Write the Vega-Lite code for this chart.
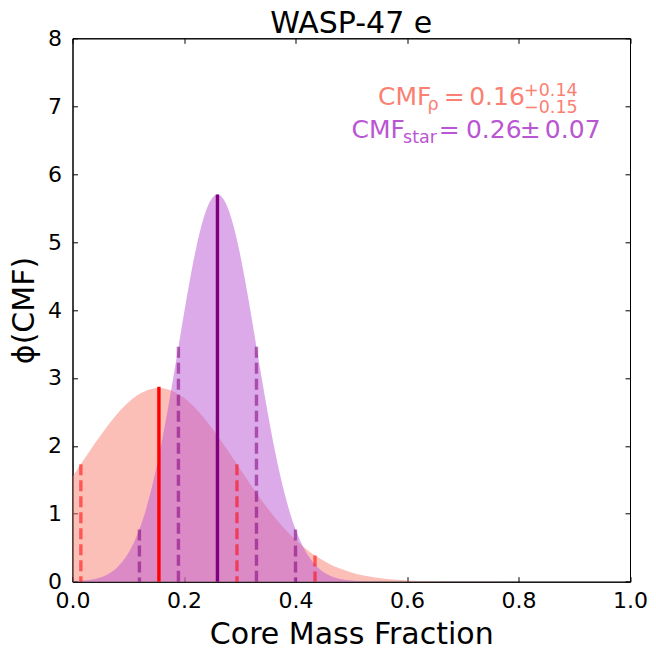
{
  "$schema": "https://vega.github.io/schema/vega-lite/v6.json",
  "width": 557.5,
  "height": 543.4,
  "autosize": {"type": "none"},
  "padding": {"left": 72.5, "top": 38.3, "right": 26, "bottom": 76.3},
  "background": "white",
  "title": {"text": "WASP-47 e", "font": "DejaVu Sans", "fontSize": 30, "fontWeight": "normal", "color": "black", "offset": 1, "baseline": "bottom", "dy": 43},
  "config": {
    "view": {"stroke": "black", "strokeWidth": 1},
    "axis": {"labelFont": "DejaVu Sans", "titleFont": "DejaVu Sans", "labelColor": "black", "titleColor": "black", "labelFontSize": 22, "titleFontSize": 30, "titleFontWeight": "normal", "grid": false, "domainColor": "black", "tickColor": "black", "tickSize": -5, "tickWidth": 1}
  },
  "datasets": {
    "red": [
      {"x": 0.0, "y": 1.544}, {"x": 0.02, "y": 1.791}, {"x": 0.04, "y": 2.034}, {"x": 0.06, "y": 2.264},
      {"x": 0.08, "y": 2.469}, {"x": 0.10, "y": 2.638}, {"x": 0.12, "y": 2.762}, {"x": 0.14, "y": 2.834},
      {"x": 0.155, "y": 2.85}, {"x": 0.17, "y": 2.834}, {"x": 0.18, "y": 2.805}, {"x": 0.20, "y": 2.707},
      {"x": 0.22, "y": 2.559}, {"x": 0.24, "y": 2.370}, {"x": 0.26, "y": 2.151}, {"x": 0.28, "y": 1.913},
      {"x": 0.30, "y": 1.667}, {"x": 0.32, "y": 1.423}, {"x": 0.34, "y": 1.190}, {"x": 0.36, "y": 0.976},
      {"x": 0.38, "y": 0.784}, {"x": 0.40, "y": 0.616}, {"x": 0.42, "y": 0.475}, {"x": 0.44, "y": 0.359},
      {"x": 0.46, "y": 0.266}, {"x": 0.48, "y": 0.193}, {"x": 0.50, "y": 0.137}, {"x": 0.52, "y": 0.095},
      {"x": 0.54, "y": 0.065}, {"x": 0.56, "y": 0.043}, {"x": 0.58, "y": 0.028}, {"x": 0.60, "y": 0.018},
      {"x": 0.62, "y": 0.011}, {"x": 0.64, "y": 0.007}, {"x": 0.66, "y": 0.004}, {"x": 0.70, "y": 0.0015},
      {"x": 0.80, "y": 0.0}, {"x": 1.0, "y": 0.0}
    ],
    "purple": [
      {"x": 0.0, "y": 0.006}, {"x": 0.02, "y": 0.016}, {"x": 0.04, "y": 0.041}, {"x": 0.06, "y": 0.096},
      {"x": 0.08, "y": 0.209}, {"x": 0.10, "y": 0.418}, {"x": 0.11, "y": 0.574}, {"x": 0.12, "y": 0.771},
      {"x": 0.13, "y": 1.016}, {"x": 0.14, "y": 1.312}, {"x": 0.15, "y": 1.658}, {"x": 0.16, "y": 2.054},
      {"x": 0.17, "y": 2.494}, {"x": 0.18, "y": 2.966}, {"x": 0.19, "y": 3.457}, {"x": 0.20, "y": 3.948},
      {"x": 0.21, "y": 4.416}, {"x": 0.22, "y": 4.842}, {"x": 0.23, "y": 5.200}, {"x": 0.24, "y": 5.472},
      {"x": 0.25, "y": 5.642}, {"x": 0.26, "y": 5.7}, {"x": 0.27, "y": 5.642}, {"x": 0.28, "y": 5.472},
      {"x": 0.29, "y": 5.200}, {"x": 0.30, "y": 4.842}, {"x": 0.31, "y": 4.416}, {"x": 0.32, "y": 3.948},
      {"x": 0.33, "y": 3.457}, {"x": 0.34, "y": 2.966}, {"x": 0.35, "y": 2.494}, {"x": 0.36, "y": 2.054},
      {"x": 0.37, "y": 1.658}, {"x": 0.38, "y": 1.312}, {"x": 0.39, "y": 1.016}, {"x": 0.40, "y": 0.771},
      {"x": 0.41, "y": 0.574}, {"x": 0.42, "y": 0.418}, {"x": 0.44, "y": 0.209}, {"x": 0.46, "y": 0.096},
      {"x": 0.48, "y": 0.041}, {"x": 0.50, "y": 0.016}, {"x": 0.52, "y": 0.006}, {"x": 0.54, "y": 0.002},
      {"x": 0.56, "y": 0.0006}, {"x": 0.60, "y": 0.0}, {"x": 1.0, "y": 0.0}
    ],
    "lines": [
      {"series": "rho", "kind": "median", "x": 0.155, "h": 2.87},
      {"series": "rho", "kind": "sigma", "x": 0.015, "h": 1.73},
      {"series": "rho", "kind": "sigma", "x": 0.295, "h": 1.73},
      {"series": "rho", "kind": "sigma", "x": 0.435, "h": 0.385},
      {"series": "star", "kind": "median", "x": 0.26, "h": 5.7},
      {"series": "star", "kind": "sigma", "x": 0.12, "h": 0.77},
      {"series": "star", "kind": "sigma", "x": 0.19, "h": 3.46},
      {"series": "star", "kind": "sigma", "x": 0.33, "h": 3.46},
      {"series": "star", "kind": "sigma", "x": 0.40, "h": 0.77}
    ],
    "labels": [
      {"series": "rho", "size": "main", "text": "CMF", "x": 0.548, "y": 7.017},
      {"series": "rho", "size": "script", "text": "ρ", "x": 0.6366, "y": 6.95},
      {"series": "rho", "size": "main", "text": "=", "x": 0.666, "y": 7.017},
      {"series": "rho", "size": "main", "text": "0.16", "x": 0.7115, "y": 7.017},
      {"series": "rho", "size": "script", "text": "+0.14", "x": 0.810, "y": 7.151},
      {"series": "rho", "size": "script", "text": "−0.15", "x": 0.810, "y": 6.907},
      {"series": "star", "size": "main", "text": "CMF", "x": 0.5005, "y": 6.527},
      {"series": "star", "size": "script", "text": "star", "x": 0.593, "y": 6.46},
      {"series": "star", "size": "main", "text": "=", "x": 0.657, "y": 6.527},
      {"series": "star", "size": "main", "text": "0.26", "x": 0.7057, "y": 6.527},
      {"series": "star", "size": "main", "text": "±", "x": 0.8023, "y": 6.527},
      {"series": "star", "size": "main", "text": "0.07", "x": 0.8473, "y": 6.527}
    ]
  },
  "layer": [
    {
      "data": {"name": "red"},
      "mark": {"type": "area", "color": "#FA8072", "opacity": 0.5, "interpolate": "monotone", "clip": true},
      "encoding": {
        "x": {"field": "x", "type": "quantitative", "scale": {"domain": [0, 1], "nice": false, "zero": false},
              "axis": {"orient": "bottom", "title": "Core Mass Fraction", "values": [0, 0.2, 0.4, 0.6, 0.8, 1.0], "format": ".1f", "labelPadding": 14, "titlePadding": 8, "labelFlush": false}},
        "y": {"field": "y", "type": "quantitative", "scale": {"domain": [0, 8], "nice": false},
              "axis": {"orient": "left", "title": "ϕ(CMF)", "values": [0, 1, 2, 3, 4, 5, 6, 7, 8], "labelPadding": 16, "titlePadding": 8, "labelFlush": false}}
      }
    },
    {
      "data": {"name": "purple"},
      "mark": {"type": "area", "color": "#BA55D3", "opacity": 0.5, "interpolate": "monotone", "clip": true},
      "encoding": {
        "x": {"field": "x", "type": "quantitative", "axis": null},
        "y": {"field": "y", "type": "quantitative", "axis": null}
      }
    },
    {
      "data": {"name": "lines"},
      "transform": [{"filter": "datum.series == 'star' && datum.kind == 'sigma'"}],
      "mark": {"type": "rule", "color": "#800080", "opacity": 0.55, "strokeWidth": 3.4, "strokeDash": [11, 5]},
      "encoding": {
        "x": {"field": "x", "type": "quantitative", "axis": null},
        "y": {"field": "h", "type": "quantitative", "axis": null},
        "y2": {"datum": 0}
      }
    },
    {
      "data": {"name": "lines"},
      "transform": [{"filter": "datum.series == 'rho' && datum.kind == 'sigma'"}],
      "mark": {"type": "rule", "color": "#FF0000", "opacity": 0.55, "strokeWidth": 3.4, "strokeDash": [11, 5]},
      "encoding": {
        "x": {"field": "x", "type": "quantitative", "axis": null},
        "y": {"field": "h", "type": "quantitative", "axis": null},
        "y2": {"datum": 0}
      }
    },
    {
      "data": {"name": "lines"},
      "transform": [{"filter": "datum.series == 'rho' && datum.kind == 'median'"}],
      "mark": {"type": "rule", "color": "#FF0000", "strokeWidth": 3.4},
      "encoding": {
        "x": {"field": "x", "type": "quantitative", "axis": null},
        "y": {"field": "h", "type": "quantitative", "axis": null},
        "y2": {"datum": 0}
      }
    },
    {
      "data": {"name": "lines"},
      "transform": [{"filter": "datum.series == 'star' && datum.kind == 'median'"}],
      "mark": {"type": "rule", "color": "#800080", "strokeWidth": 3.4},
      "encoding": {
        "x": {"field": "x", "type": "quantitative", "axis": null},
        "y": {"field": "h", "type": "quantitative", "axis": null},
        "y2": {"datum": 0}
      }
    },
    {
      "data": {"name": "labels"},
      "transform": [{"filter": "datum.size == 'main'"}],
      "mark": {"type": "text", "align": "left", "baseline": "alphabetic", "font": "DejaVu Sans", "fontSize": 25},
      "encoding": {
        "x": {"field": "x", "type": "quantitative", "axis": null},
        "y": {"field": "y", "type": "quantitative", "axis": null},
        "text": {"field": "text"},
        "color": {"field": "series", "type": "nominal", "scale": {"domain": ["rho", "star"], "range": ["#FA8072", "#BA55D3"]}, "legend": null}
      }
    },
    {
      "data": {"name": "labels"},
      "transform": [{"filter": "datum.size == 'script'"}],
      "mark": {"type": "text", "align": "left", "baseline": "alphabetic", "font": "DejaVu Sans", "fontSize": 17.5},
      "encoding": {
        "x": {"field": "x", "type": "quantitative", "axis": null},
        "y": {"field": "y", "type": "quantitative", "axis": null},
        "text": {"field": "text"},
        "color": {"field": "series", "type": "nominal", "legend": null}
      }
    },
    {
      "data": {"name": "lines"},
      "mark": {"type": "point", "opacity": 0, "size": 1},
      "encoding": {
        "x": {"field": "x", "type": "quantitative", "axis": {"orient": "top", "title": null, "labels": false, "values": [0, 0.2, 0.4, 0.6, 0.8, 1.0]}},
        "y": {"field": "h", "type": "quantitative", "axis": {"orient": "right", "title": null, "labels": false, "values": [0, 1, 2, 3, 4, 5, 6, 7, 8]}}
      }
    }
  ],
  "resolve": {"axis": {"x": "independent", "y": "independent"}}
}
